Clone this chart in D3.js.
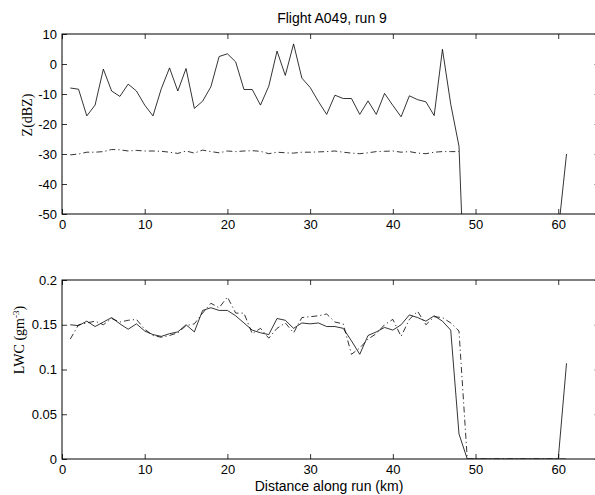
<!DOCTYPE html>
<html>
<head>
<meta charset="utf-8">
<script src="https://cdn.jsdelivr.net/npm/d3@7"></script>
<style>
  html, body { margin: 0; padding: 0; background: #fff; }
  svg { display: block; }
  .tick text { font-family: "Liberation Sans", Arial, sans-serif; font-size: 13px; fill: #000; }
  .tick line { stroke: #000; stroke-width: 0.8; }
</style>
</head>
<body>
<svg id="chart" width="595" height="495"></svg>
<script>
// Along-track distance (km) of each 1-km sample
const distanceKm = [1,2,3,4,5,6,7,8,9,10,11,12,13,14,15,16,17,18,19,20,
  21,22,23,24,25,26,27,28,29,30,31,32,33,34,35,36,37,38,39,40,
  41,42,43,44,45,46,47,48,49,50,51,52,53,54,55,56,57,58,59,60,61];

// Radar reflectivity (dBZ), solid line; -100 marks samples with no echo
const zMeasured = [-8,-8.4,-17.3,-13.7,-1.7,-9,-10.8,-6.7,-9,-13.7,
  -17.3,-8.3,-1.3,-9,-1.5,-14.8,-12.4,-7.6,2.5,3.4,
  0.7,-8.5,-8.5,-13.7,-7.4,4.3,-3.8,6.7,-4.7,-7.8,
  -12.5,-16.8,-10.4,-11.5,-11.5,-16.8,-12.3,-16.8,-9.8,-13.8,
  -17.6,-10.6,-11.9,-12.6,-17.2,4.9,-13.4,-27.4,-100,-100,
  -100,-100,-100,-100,-100,-100,-100,-100,-100,-56,-30];

// Reflectivity (dBZ), dash-dot line, km 1-48
const zSecond = [-30.3,-30,-29.4,-29.4,-29.2,-28.5,-28.6,-29,-28.8,-29,
  -29,-29.1,-29.4,-29.8,-29,-29.7,-28.7,-29.2,-29.6,-29,
  -29.2,-29,-28.9,-29.1,-29.9,-29.4,-29.6,-29.7,-29.4,-29.4,
  -29.3,-29.2,-29,-29.4,-29.7,-29.9,-29.6,-29.2,-29.1,-29,
  -29.4,-29.2,-29.7,-29.9,-29.4,-29.2,-29.2,-29.2];

// Liquid water content (g m^-3), solid line
const lwcMeasured = [0.150,0.149,0.154,0.148,0.153,0.158,0.151,0.145,0.151,0.143,
  0.139,0.137,0.140,0.142,0.150,0.142,0.166,0.169,0.166,0.166,
  0.160,0.152,0.144,0.141,0.139,0.157,0.155,0.146,0.152,0.151,
  0.152,0.148,0.148,0.146,0.132,0.117,0.138,0.142,0.147,0.144,
  0.150,0.161,0.158,0.154,0.160,0.154,0.144,0.028,0,0,
  0,0,0,0,0,0,0,0,0,0,0.107];

// Liquid water content (g m^-3), dash-dot line
const lwcSecond = [0.134,0.150,0.152,0.154,0.150,0.157,0.153,0.155,0.156,0.145,
  0.138,0.136,0.138,0.141,0.149,0.151,0.163,0.174,0.169,0.181,
  0.163,0.163,0.140,0.146,0.135,0.146,0.152,0.141,0.158,0.159,
  0.160,0.162,0.153,0.151,0.117,0.124,0.134,0.140,0.150,0.156,
  0.137,0.156,0.165,0.150,0.159,0.158,0.152,0.143,0,0,
  0,0,0,0,0,0,0,0,0,0,0];

const kmTicks = [0,10,20,30,40,50,60];
const zTicks = [-50,-40,-30,-20,-10,0,10];
const lwcTicks = [0,0.05,0.1,0.15,0.2];

const svg = d3.select("#chart");
svg.append("rect").attr("width", 595).attr("height", 495).attr("fill", "#fff");

const left = 62, right = 599.6;
const x = d3.scaleLinear().domain([0, 65]).range([left, right]);

const panels = [
  { id: "z", top: 34, bottom: 214, domain: [-50, 10], ticks: zTicks,
    series: [
      { xs: distanceKm, ys: zMeasured, dash: null },
      { xs: distanceKm.slice(0, zSecond.length), ys: zSecond, dash: "6,3,1.2,3" }
    ] },
  { id: "lwc", top: 280, bottom: 459, domain: [0, 0.2], ticks: lwcTicks,
    series: [
      { xs: distanceKm, ys: lwcMeasured, dash: null },
      { xs: distanceKm, ys: lwcSecond, dash: "6,3,1.2,3" }
    ] }
];

const tickLen = 5;

panels.forEach(p => {
  const y = d3.scaleLinear().domain(p.domain).range([p.bottom, p.top]);
  const g = svg.append("g");

  // clip traces to the plot box
  svg.append("clipPath").attr("id", "clip-" + p.id)
    .append("rect").attr("x", left).attr("y", p.top)
    .attr("width", right - left).attr("height", p.bottom - p.top);

  const line = d3.line().x(d => x(d[0])).y(d => y(d[1]));
  p.series.forEach(s => {
    g.append("path")
      .datum(s.xs.map((k, i) => [k, s.ys[i]]))
      .attr("clip-path", "url(#clip-" + p.id + ")")
      .attr("fill", "none")
      .attr("stroke", "#000")
      .attr("stroke-width", 0.8)
      .attr("stroke-dasharray", s.dash)
      .attr("d", line);
  });

  // inward ticks on all four sides
  const fmt = d => String(d);
  const bottomAxis = g.append("g").attr("transform", `translate(0,${p.bottom})`)
    .call(d3.axisBottom(x).tickValues(kmTicks).tickFormat(fmt)
      .tickSizeInner(-tickLen).tickSizeOuter(0).tickPadding(6));
  const leftAxis = g.append("g").attr("transform", `translate(${left},0)`)
    .call(d3.axisLeft(y).tickValues(p.ticks).tickFormat(fmt)
      .tickSizeInner(-tickLen).tickSizeOuter(0).tickPadding(5));
  const topAxis = g.append("g").attr("transform", `translate(0,${p.top})`)
    .call(d3.axisTop(x).tickValues(kmTicks).tickFormat("")
      .tickSizeInner(-tickLen).tickSizeOuter(0));
  const rightAxis = g.append("g").attr("transform", `translate(${right},0)`)
    .call(d3.axisRight(y).tickValues(p.ticks).tickFormat("")
      .tickSizeInner(-tickLen).tickSizeOuter(0));
  [bottomAxis, leftAxis, topAxis, rightAxis].forEach(a => a.select(".domain").remove());

  g.append("rect")
    .attr("x", left).attr("y", p.top)
    .attr("width", right - left).attr("height", p.bottom - p.top)
    .attr("fill", "none").attr("stroke", "#000").attr("stroke-width", 1);
});

// titles and axis labels
svg.append("text")
  .attr("x", 332).attr("y", 23)
  .attr("text-anchor", "middle")
  .style("font-family", "'Liberation Sans', Arial, sans-serif")
  .style("font-size", "14px")
  .text("Flight A049, run 9");

svg.append("text")
  .attr("x", 329).attr("y", 491)
  .attr("text-anchor", "middle")
  .style("font-family", "'Liberation Sans', Arial, sans-serif")
  .style("font-size", "14px")
  .text("Distance along run (km)");

svg.append("text")
  .attr("transform", "translate(32,115) rotate(-90)")
  .attr("text-anchor", "middle")
  .style("font-family", "'Liberation Serif', 'Times New Roman', serif")
  .style("font-size", "14px")
  .text("Z(dBZ)");

const lwcLabel = svg.append("text")
  .attr("transform", "translate(24,340) rotate(-90)")
  .attr("text-anchor", "middle")
  .style("font-family", "'Liberation Serif', 'Times New Roman', serif")
  .style("font-size", "14px");
lwcLabel.append("tspan").text("LWC (gm");
lwcLabel.append("tspan").attr("dy", "-5").style("font-size", "9px").text("-3");
lwcLabel.append("tspan").attr("dy", "5").text(")");
</script>
</body>
</html>
